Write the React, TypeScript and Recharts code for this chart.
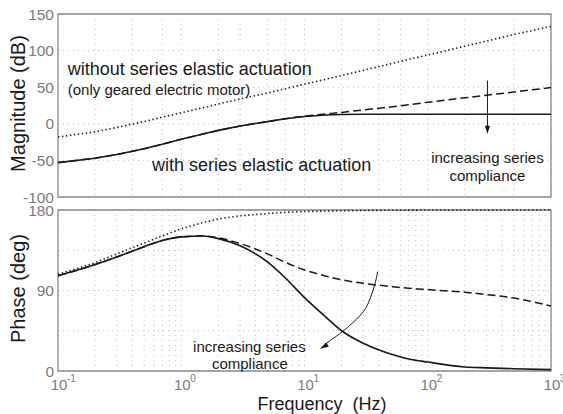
import {
  LineChart, Line, XAxis, YAxis, CartesianGrid, ReferenceArea, ReferenceDot, ReferenceLine,
} from 'recharts'

// frequency grid the curves were read at (Hz)
const freq = [0.1, 0.2, 0.3, 0.5, 0.7, 1, 1.5, 2, 3, 5, 7, 10, 15, 20, 30, 50, 70, 100, 200, 300, 500, 1000]

// magnitude (dB)
const magMotor = [-18, -11, -5, 3, 9, 15, 22, 27, 34, 42, 48, 54, 61, 66, 73, 82, 88, 94, 106, 113, 122, 133]
const magSeaStiff = [-53, -47, -42, -34, -28, -21, -14, -9, -3, 3, 7, 10.5, 13.5, 15.5, 19, 23, 26, 29.5, 35.5, 39, 43.5, 49.5]
const magSeaSoft = [-53, -47, -42, -34, -28, -21, -14, -9, -3, 3, 7, 10, 12, 12.8, 13, 13, 13, 13, 13, 13, 13, 13]

// phase (deg)
const phaseMotor = [108, 121, 131, 143, 151, 159, 166, 170, 173.5, 176, 177.5, 178.3, 178.9, 179.2, 179.5, 179.7, 179.8, 180, 180, 180, 180, 180]
const phaseSeaStiff = [106.5, 119, 127.5, 139, 146, 150, 151, 149, 142.5, 131, 121.5, 113, 106, 102, 98, 94.5, 92.5, 91, 88, 85.5, 81.5, 72.7]
const phaseSeaSoft = [106.5, 119, 127.5, 139, 146, 150, 151, 148, 140, 122, 104, 82, 60, 45, 31, 19, 13.5, 10, 4.5, 3.5, 2.5, 1.5]

// curved "increasing compliance" arrow in the phase plot
const arcFreq = [39.2, 37.1, 33.3, 28.5, 20.6, 16.3, 13.5]
const arcPhase = [111, 96.3, 77.5, 62.6, 44.6, 34.5, 25.2]

const freqTicks = [
  0.1, 0.2, 0.3, 0.4, 0.5, 0.6, 0.7, 0.8, 0.9,
  1, 2, 3, 4, 5, 6, 7, 8, 9,
  10, 20, 30, 40, 50, 60, 70, 80, 90,
  100, 200, 300, 400, 500, 600, 700, 800, 900,
  1000,
]
const magTicks = [-100, -50, 0, 50, 100, 150]
const phaseTicks = [0, 45, 90, 135, 180]
const phaseLabelled = [0, 90, 180]

const FONT = '"Liberation Sans", Arial, Helvetica, sans-serif'
const GRAY = '#7c7c7c'
const INK = '#1a1a1a'

const toRows = (ys: number[]) => freq.map((f, i) => ({ f, v: ys[i] }))

function FreqTick({ x, y, payload }: any) {
  const lg = Math.log10(payload.value)
  if (Math.abs(lg - Math.round(lg)) > 1e-6) return null
  return (
    <g fill={GRAY} fontFamily={FONT}>
      <text x={x + 1} y={y + 19} textAnchor="middle" fontSize={15}>10</text>
      <text x={x + 9} y={y + 11} fontSize={10}>{Math.round(lg)}</text>
    </g>
  )
}

function Arrowhead({ cx, cy, angle }: any) {
  return (
    <polygon
      points="0,0 -8,-2.6 -8,2.6"
      fill={INK}
      transform={`translate(${cx},${cy}) rotate(${angle})`}
    />
  )
}

function Note({ cx, cy, text, size = 15, anchor = 'middle' }: any) {
  return (
    <text x={cx} y={cy} textAnchor={anchor} dominantBaseline="central"
      fontSize={size} fill={INK} fontFamily={FONT}>
      {text}
    </text>
  )
}

const yTitle = (title: string) => ({
  content: ({ viewBox }: any) => (
    <text
      transform={`translate(${viewBox.x + 18},${viewBox.y + viewBox.height / 2 - 2}) rotate(-90)`}
      textAnchor="middle" dominantBaseline="central"
      fontSize={20} fill={INK} fontFamily={FONT}
    >
      {title}
    </text>
  ),
})

export default function App() {
  const lineProps = { dot: false, isAnimationActive: false, stroke: INK }
  return (
    <div style={{ position: 'absolute', left: 0, top: 0, width: 563, height: 414, background: '#fff', fontFamily: FONT }}>
      {/* magnitude */}
      <div style={{ position: 'absolute', left: 0, top: 0 }}>
        <LineChart width={563} height={205} margin={{ top: 14, right: 12, bottom: 8, left: 0 }}>
          <CartesianGrid stroke="#c0c0c0" strokeDasharray="1 4" />
          <XAxis dataKey="f" type="number" scale="log" domain={[0.1, 1000]} allowDataOverflow
            ticks={freqTicks} hide />
          <YAxis type="number" domain={[-100, 150]} ticks={magTicks} width={58} interval={0}
            axisLine={false} tickLine={false} tickSize={0} tickMargin={4}
            tick={{ fill: GRAY, fontSize: 15.5, fontFamily: FONT }}
            label={yTitle('Magnitude (dB)')} />
          <Line data={toRows(magMotor)} dataKey="v" strokeWidth={1.6} strokeDasharray="1.4 2.6" {...lineProps} />
          <Line data={toRows(magSeaStiff)} dataKey="v" strokeWidth={1.5} strokeDasharray="8 4" {...lineProps} />
          <Line data={toRows(magSeaSoft)} dataKey="v" strokeWidth={1.6} {...lineProps} />
          <ReferenceArea x1={0.1} x2={1000} y1={-100} y2={150} fill="none" stroke="#8a8a8a" strokeWidth={1.3} />
          <ReferenceLine segment={[{ x: 305, y: 59 }, { x: 305, y: -10 }]} stroke={INK} strokeWidth={1} />
          <ReferenceDot x={305} y={-13.5} r={1} shape={(p: any) => <Arrowhead cx={p.cx} cy={p.cy} angle={90} />} />
          <ReferenceDot x={0.12} y={74.8} r={1} shape={(p: any) => <Note cx={p.cx} cy={p.cy} text="without series elastic actuation" size={18} anchor="start" />} />
          <ReferenceDot x={0.12} y={47.4} r={1} shape={(p: any) => <Note cx={p.cx} cy={p.cy} text="(only geared electric motor)" size={15} anchor="start" />} />
          <ReferenceDot x={0.58} y={-56.7} r={1} shape={(p: any) => <Note cx={p.cx} cy={p.cy} text="with series elastic actuation" size={18} anchor="start" />} />
          <ReferenceDot x={305} y={-45.8} r={1} shape={(p: any) => <Note cx={p.cx} cy={p.cy} text="increasing series" />} />
          <ReferenceDot x={305} y={-70.4} r={1} shape={(p: any) => <Note cx={p.cx} cy={p.cy} text="compliance" />} />
        </LineChart>
      </div>

      {/* phase */}
      <div style={{ position: 'absolute', left: 0, top: 200 }}>
        <LineChart width={563} height={214} margin={{ top: 10, right: 12, bottom: 0, left: 0 }}>
          <CartesianGrid stroke="#c0c0c0" strokeDasharray="1 4" />
          <XAxis dataKey="f" type="number" scale="log" domain={[0.1, 1000]} allowDataOverflow
            ticks={freqTicks} height={43} axisLine={false} tickLine={false} tickSize={0} tickMargin={0}
            tick={<FreqTick />} interval={0}
            label={{
              content: ({ viewBox }: any) => (
                <text x={322} y={viewBox.y + 33} textAnchor="middle" dominantBaseline="central"
                  fontSize={18} fill={INK} fontFamily={FONT}>
                  {'Frequency\u00a0 (Hz)'}
                </text>
              ),
            }} />
          <YAxis type="number" domain={[0, 180]} ticks={phaseTicks} width={58} interval={0}
            axisLine={false} tickLine={false} tickSize={0} tickMargin={4}
            tickFormatter={(v: number) => (phaseLabelled.includes(v) ? String(v) : '')}
            tick={{ fill: GRAY, fontSize: 15.5, fontFamily: FONT }}
            label={yTitle('Phase (deg)')} />
          <Line data={toRows(phaseMotor)} dataKey="v" strokeWidth={1.6} strokeDasharray="1.4 2.6" {...lineProps} />
          <Line data={toRows(phaseSeaStiff)} dataKey="v" strokeWidth={1.5} strokeDasharray="8 4" type="monotone" {...lineProps} />
          <Line data={toRows(phaseSeaSoft)} dataKey="v" strokeWidth={1.6} type="monotone" {...lineProps} />
          <Line data={arcFreq.map((f, i) => ({ f, v: arcPhase[i] }))} dataKey="v" strokeWidth={1} type="natural" {...lineProps} />
          <ReferenceArea x1={0.1} x2={1000} y1={0} y2={180} fill="none" stroke="#8a8a8a" strokeWidth={1.3} />
          <ReferenceDot x={13.5} y={25.2} r={1} shape={(p: any) => <Arrowhead cx={p.cx} cy={p.cy} angle={150} />} />
          <ReferenceDot x={3.57} y={27.8} r={1} shape={(p: any) => <Note cx={p.cx} cy={p.cy} text="increasing series" />} />
          <ReferenceDot x={3.6} y={8.7} r={1} shape={(p: any) => <Note cx={p.cx} cy={p.cy} text="compliance" />} />
        </LineChart>
      </div>
    </div>
  )
}
